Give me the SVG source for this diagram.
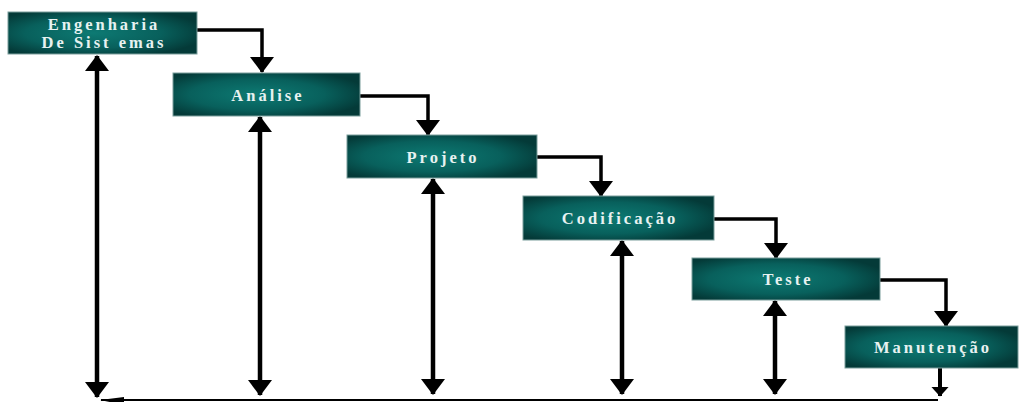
<svg xmlns="http://www.w3.org/2000/svg" width="1019" height="402" viewBox="0 0 1019 402">
<defs>
<radialGradient id="g" cx="0.45" cy="0.5" r="0.6">
<stop offset="0" stop-color="#0d7a73"/>
<stop offset="0.6" stop-color="#08605c"/>
<stop offset="1" stop-color="#043a38"/>
</radialGradient>
<marker id="ah" viewBox="0 0 16 24" refX="15" refY="12" markerWidth="16" markerHeight="24" orient="auto-start-reverse" markerUnits="userSpaceOnUse">
<path d="M0,0 L16,12 L0,24 z" fill="#000"/>
</marker>
<marker id="as" viewBox="0 0 10 18" refX="9.5" refY="9" markerWidth="10" markerHeight="18" orient="auto" markerUnits="userSpaceOnUse">
<path d="M0,0 L10,9 L0,18 z" fill="#000"/>
</marker>
<marker id="al" viewBox="0 0 24 8" refX="23" refY="5" markerWidth="24" markerHeight="8" orient="auto" markerUnits="userSpaceOnUse">
<path d="M0,0 L24,5 L0,8 z" fill="#000"/>
</marker>
</defs>
<style>
.box{fill:url(#g);stroke:#7a9e9c;stroke-width:1}
.t{font-family:"Liberation Serif",serif;font-weight:bold;font-size:16.5px;fill:#e8f2f1;text-anchor:middle;letter-spacing:3px}
.c{fill:none;stroke:#000;stroke-width:3.5}
.b{fill:none;stroke:#000;stroke-width:4.5}
.h{fill:none;stroke:#000;stroke-width:2}
.s{fill:none;stroke:#000;stroke-width:4}
</style>
<rect width="1019" height="402" fill="#fff"/>
<g id="connectors">
<path class="c" d="M197,30 H262 V72" marker-end="url(#ah)"/>
<path class="c" d="M360,96 H428 V135" marker-end="url(#ah)"/>
<path class="c" d="M537,157 H601 V196" marker-end="url(#ah)"/>
<path class="c" d="M714,219 H776 V258" marker-end="url(#ah)"/>
<path class="c" d="M880,280 H946 V326" marker-end="url(#ah)"/>
<path class="s" d="M940,368 V396" marker-end="url(#as)"/>
<path class="b" d="M97,56 V397" marker-start="url(#ah)" marker-end="url(#ah)"/>
<path class="b" d="M260,117 V395" marker-start="url(#ah)" marker-end="url(#ah)"/>
<path class="b" d="M433,179 V394" marker-start="url(#ah)" marker-end="url(#ah)"/>
<path class="b" d="M622,241 V394" marker-start="url(#ah)" marker-end="url(#ah)"/>
<path class="b" d="M775,301 V394" marker-start="url(#ah)" marker-end="url(#ah)"/>
<path class="h" d="M938,400 H101" marker-end="url(#al)"/>
</g>
<g id="n1"><rect class="box" x="8" y="12" width="189" height="42"/><text class="t" x="104" y="30">Engenharia</text><text class="t" x="104" y="48">De Sist emas</text></g>
<g id="n2"><rect class="box" x="173" y="73" width="187" height="43"/><text class="t" x="268" y="101">Análise</text></g>
<g id="n3"><rect class="box" x="347" y="135" width="190" height="43"/><text class="t" x="443" y="163">Projeto</text></g>
<g id="n4"><rect class="box" x="523" y="196" width="191" height="44"/><text class="t" x="620" y="224">Codificação</text></g>
<g id="n5"><rect class="box" x="692" y="258" width="188" height="42"/><text class="t" x="788" y="285">Teste</text></g>
<g id="n6"><rect class="box" x="845" y="326" width="173" height="42"/><text class="t" x="933" y="353">Manutenção</text></g>
</svg>
